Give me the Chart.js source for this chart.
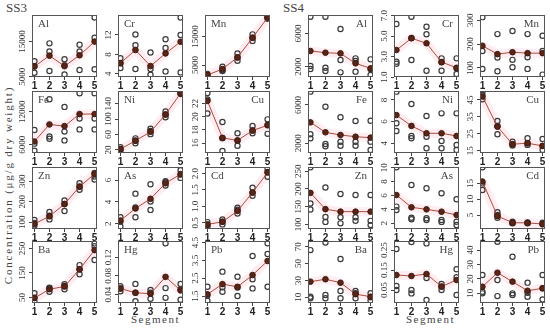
<!DOCTYPE html>
<html>
<head>
<meta charset="utf-8">
<script src="https://cdn.jsdelivr.net/npm/chart.js@4.4.0/dist/chart.umd.min.js"></script>
<style>
  body { margin: 0; background: #fff; width: 550px; height: 328px; position: relative; overflow: hidden; font-family: "Liberation Serif", serif; }
  canvas { position: absolute; }
  .txt { position: absolute; color: #444; white-space: nowrap; }
</style>
</head>
<body>
<div class="txt" style="left:6px;top:0px;font-size:13px">SS3</div>
<div class="txt" style="left:283px;top:0px;font-size:13px">SS4</div>
<div class="txt" style="left:8px;top:185px;font-size:11px;letter-spacing:1.8px;transform:translate(-50%,-50%) rotate(-90deg)">Concentration (μg/g dry weight)</div>
<div class="txt" style="left:131px;top:313px;font-size:11px;letter-spacing:1.5px">Segment</div>
<div class="txt" style="left:406px;top:313px;font-size:11px;letter-spacing:1.5px">Segment</div>

<script>
const segments = [1, 2, 3, 4, 5];

// SS3 replicate values (3 per segment) and segment means
const ss3Al = [[9400, 8000, 6100], [14500, 12200, 6600], [10000, 8300, 5600], [14100, 12200, 6900], [21900, 16100, 7100]];
const ss3AlMean = [7900, 11000, 8000, 11100, 15000];
const ss3Cr = [[7.2, 6.2, 5.2], [12.1, 9.9, 5.0], [8.4, 5.0, 3.8], [11.1, 9.3, 4.5], [15.6, 12.0, 4.3]];
const ss3CrMean = [6.2, 8.9, 5.6, 8.2, 10.6];
const ss3Mn = [[1900, 1500, 1100], [4400, 3200, 2900], [9100, 7700, 6500], [15800, 14600, 13500], [21900, 21700, 21300]];
const ss3MnMean = [1500, 3600, 7700, 14600, 21700];
const ss3Fe = [[8700, 6200, 4900], [14300, 7500, 7100], [12900, 8400, 6800], [15400, 10800, 8800], [15400, 10800, 8800]];
const ss3FeMean = [6600, 9700, 9400, 11600, 11600];
const ss3Ni = [[27, 22, 18], [50, 44, 37], [75, 69, 61], [120, 112, 105], [170, 168, 165]];
const ss3NiMean = [22, 44, 67, 112, 167];
const ss3Cu = [[23.6, 22.6, 20.5], [19.2, 16.75, 14.8], [17.5, 16.4, 15.6], [18.6, 17.9, 17.5], [19.6, 18.75, 17.4]];
const ss3CuMean = [22.4, 16.8, 16.4, 17.9, 18.7];
const ss3Zn = [[111, 97, 84], [150, 132, 114], [206, 189, 155], [291, 274, 259], [341, 323, 309]];
const ss3ZnMean = [92, 129, 189, 274, 336];
const ss3As = [[2.6, 2.2, 1.75], [4.76, 3.5, 2.6], [5.62, 4.03, 3.27], [5.9, 5.8, 5.5], [6.9, 6.5, 6.2]];
const ss3AsMean = [2.3, 3.4, 4.29, 5.71, 6.55];
const ss3Cd = [[0.52, 0.43, 0.38], [0.6, 0.53, 0.45], [0.96, 0.9, 0.78], [1.57, 1.42, 1.32], [2.15, 2.05, 1.9]];
const ss3CdMean = [0.45, 0.53, 0.86, 1.42, 2.03];
const ss3Ba = [[68, 50, 34], [90, 88, 74], [104, 97, 84], [182, 165, 145], [270, 259, 203]];
const ss3BaMean = [48, 84, 95, 165, 243];
const ss3Hg = [[0.058, 0.053, 0.047], [0.063, 0.044, 0.026], [0.05, 0.044, 0.031], [0.15, 0.054, 0.033], [0.063, 0.051, 0.029]];
const ss3HgMean = [0.053, 0.044, 0.042, 0.078, 0.049];
const ss3Pb = [[2.02, 1.54, 1.24], [2.87, 1.99, 1.74], [2.58, 1.98, 1.5], [3.75, 2.44, 1.93], [4.46, 3.86, 2.02]];
const ss3PbMean = [1.6, 2.17, 2.02, 2.68, 3.47];

// SS4
const ss4Al = [[8000, 2080, 1720], [8000, 1880, 1480], [6530, 2800, 1320], [3000, 2680, 1400], [2880, 1720, 1000]];
const ss4AlMean = [3890, 3680, 3600, 2400, 1800];
const ss4Cr = [[6.17, 2.49, 2.3], [6.88, 4.8, 2.66], [5.9, 5.17, 1.61], [2.82, 2.43, 1.61], [2.82, 1.85, 1.29]];
const ss4CrMean = [3.63, 4.78, 4.29, 2.46, 1.9];
const ss4Mn = [[313, 171, 96], [242, 144, 86], [255, 134, 103], [242, 145, 96], [235, 171, 72]];
const ss4MnMean = [193, 158, 166, 162, 162];
const ss4Fe = [[7390, 2940, 2520], [5820, 1930, 1700], [4720, 2170, 1750], [4330, 2170, 1750], [4360, 2170, 1300]];
const ss4FeMean = [4190, 3150, 2870, 2690, 2590];
const ss4Ni = [[8.76, 5.84, 5.13], [7.62, 4.67, 4.46], [6.52, 4.6, 3.54], [6.76, 4.21, 3.54], [6.76, 3.84, 3.38]];
const ss4NiMean = [6.6, 5.6, 4.92, 4.92, 4.67];
const ss4Cu = [[49.9, 48, 45.4], [32.6, 29.6, 24.7], [20.3, 18.8, 18], [22.3, 19.4, 18.4], [21.9, 17.8, 15.4]];
const ss4CuMean = [47, 29.2, 18.8, 19.4, 17.8];
const ss4Zn = [[261, 159, 142], [204, 121, 107], [186, 120, 103], [183, 120, 110], [183, 110, 98]];
const ss4ZnMean = [189, 143, 136, 136, 136];
const ss4As = [[10.06, 4.4, 3.9], [7.5, 2.8, 2.58], [7.04, 2.72, 2.47], [6.32, 2.47, 2.2], [5.45, 2.23, 1.76]];
const ss4AsMean = [6.07, 4.3, 4.01, 3.67, 3.2];
const ss4Cd = [[20.1, 15.0, 12.9], [5.85, 5.0, 4.15], [2.88, 2.5, 2.37], [2.68, 2.5, 2.37], [2.56, 2.2, 2.06]];
const ss4CdMean = [15.6, 4.68, 2.56, 2.5, 2.15];
const ss4Ba = [[66, 10.7, 8.8], [75, 12.7, 8.8], [55.4, 17.5, 8.8], [17.5, 14.7, 8.8], [14.7, 10, 6]];
const ss4BaMean = [28.5, 31.4, 27.3, 13.7, 10.7];
const ss4Hg = [[0.255, 0.07, 0.05], [0.29, 0.05, 0.033], [0.283, 0.11, 0.0], [0.08, 0.067, 0.05], [0.154, 0.114, 0.025]];
const ss4HgMean = [0.125, 0.12, 0.13, 0.067, 0.1];
const ss4Pb = [[22.7, 11.1, 10], [45.8, 19.2, 8.1], [35.4, 10, 8.8], [17.4, 10.4, 7.6], [22.7, 13.5, 5.8]];
const ss4PbMean = [14.6, 24.3, 18.1, 11.8, 13.5];

// y tick labels per panel
const ticksAl3 = ['5000', '15000'], ticksCr3 = ['4', '8', '12'], ticksMn3 = ['5000', '15000'];
const ticksFe3 = ['6000', '12000'], ticksNi3 = ['20', '60', '100', '140'], ticksCu3 = ['16', '18', '20', '22'];
const ticksZn3 = ['100', '200', '300'], ticksAs3 = ['2', '4', '6'], ticksCd3 = ['0.5', '1.0', '1.5', '2.0'];
const ticksBa3 = ['50', '150', '250'], ticksHg3 = ['0.04', '0.08', '0.12'], ticksPb3 = ['1.5', '2.5', '3.5', '4.5'];
const ticksAl4 = ['2000', '6000'], ticksCr4 = ['1.0', '3.0', '5.0', '7.0'], ticksMn4 = ['100', '200', '300'];
const ticksFe4 = ['2000', '6000'], ticksNi4 = ['4', '6', '8'], ticksCu4 = ['15', '25', '35', '45'];
const ticksZn4 = ['100', '150', '200', '250'], ticksAs4 = ['2', '4', '6', '8', '10'], ticksCd4 = ['5', '10', '15'];
const ticksBa4 = ['10', '30', '50', '70'], ticksHg4 = ['0.05', '0.15', '0.25'], ticksPb4 = ['10', '20', '30', '40'];

// panel grid (plot-area boxes)
const colLeft = [[32, 118, 205], [308, 394, 480]];
const rowTop = [15, 91, 167, 241];
const BOX_W = 65, BOX_H = 62;
const PADL = 26, PADT = 10, PADR = 8, PADB = 15;

const panels = [
  // group, col, row, label, corner, pts, mean, ticks, ymin, ymax
  [0, 0, 0, 'Al', 'l', ss3Al, ss3AlMean, ticksAl3, 4900, 22600],
  [0, 1, 0, 'Cr', 'l', ss3Cr, ss3CrMean, ticksCr3, 3.35, 16.1],
  [0, 2, 0, 'Mn', 'l', ss3Mn, ss3MnMean, ticksMn3, 800, 22600],
  [0, 0, 1, 'Fe', 'l', ss3Fe, ss3FeMean, ticksFe3, 4500, 15800],
  [0, 1, 1, 'Ni', 'l', ss3Ni, ss3NiMean, ticksNi3, 12, 173],
  [0, 2, 1, 'Cu', 'r', ss3Cu, ss3CuMean, ticksCu3, 14.5, 23.9],
  [0, 0, 2, 'Zn', 'l', ss3Zn, ss3ZnMean, ticksZn3, 67, 370],
  [0, 1, 2, 'As', 'l', ss3As, ss3AsMean, ticksAs3, 1.52, 7.2],
  [0, 2, 2, 'Cd', 'l', ss3Cd, ss3CdMean, ticksCd3, 0.31, 2.2],
  [0, 0, 3, 'Ba', 'l', ss3Ba, ss3BaMean, ticksBa3, 28, 280],
  [0, 1, 3, 'Hg', 'l', ss3Hg, ss3HgMean, ticksHg3, 0.022, 0.155],
  [0, 2, 3, 'Pb', 'l', ss3Pb, ss3PbMean, ticksPb3, 1.11, 4.59],
  [1, 0, 0, 'Al', 'r', ss4Al, ss4AlMean, ticksAl4, 760, 8210],
  [1, 1, 0, 'Cr', 'r', ss4Cr, ss4CrMean, ticksCr4, 1.0, 7.05],
  [1, 2, 0, 'Mn', 'r', ss4Mn, ss4MnMean, ticksMn4, 62, 322],
  [1, 0, 1, 'Fe', 'r', ss4Fe, ss4FeMean, ticksFe4, 990, 7460],
  [1, 1, 1, 'Ni', 'r', ss4Ni, ss4NiMean, ticksNi4, 3.1, 8.82],
  [1, 2, 1, 'Cu', 'r', ss4Cu, ss4CuMean, ticksCu4, 13.6, 50.3],
  [1, 0, 2, 'Zn', 'r', ss4Zn, ss4ZnMean, ticksZn4, 87, 262],
  [1, 1, 2, 'As', 'r', ss4As, ss4AsMean, ticksAs4, 1.18, 10.1],
  [1, 2, 2, 'Cd', 'r', ss4Cd, ss4CdMean, ticksCd4, 0.57, 20.2],
  [1, 0, 3, 'Ba', 'r', ss4Ba, ss4BaMean, ticksBa4, 3.2, 76.8],
  [1, 1, 3, 'Hg', 'r', ss4Hg, ss4HgMean, ticksHg4, -0.015, 0.295],
  [1, 2, 3, 'Pb', 'r', ss4Pb, ss4PbMean, ticksPb4, 3.3, 46.3],
];

// box, rotated y labels and element name
const panelDeco = {
  id: 'panelDeco',
  afterDraw(chart, args, opts) {
    const { ctx, chartArea: a } = chart;
    const y = chart.scales.y;
    ctx.save();
    ctx.strokeStyle = '#555';
    ctx.lineWidth = 1;
    ctx.strokeRect(Math.round(a.left) + 0.5, Math.round(a.top) + 0.5, Math.round(a.width) - 1, Math.round(a.height) - 1);

    ctx.fillStyle = '#333';
    ctx.font = '9px "Liberation Serif"';
    ctx.textAlign = 'center';
    ctx.textBaseline = 'middle';
    opts.labels.forEach(lbl => {
      const py = y.getPixelForValue(parseFloat(lbl));
      ctx.save();
      ctx.translate(a.left - 9, py);
      ctx.rotate(-Math.PI / 2);
      ctx.fillText(lbl, 0, 0);
      ctx.restore();
    });

    ctx.font = '11px "Liberation Serif"';
    ctx.fillStyle = '#444';
    ctx.textBaseline = 'top';
    if (opts.corner === 'l') {
      ctx.textAlign = 'left';
      ctx.fillText(opts.name, a.left + 6, a.top + 4);
    } else {
      ctx.textAlign = 'right';
      ctx.fillText(opts.name, a.right - 6, a.top + 4);
    }
    ctx.restore();
  }
};

panels.forEach(([g, c, r, name, corner, pts, mean, ticks, ymin, ymax]) => {
  const cv = document.createElement('canvas');
  const w = BOX_W + PADL + PADR, h = BOX_H + PADT + PADB;
  cv.width = w; cv.height = h;
  cv.style.left = (colLeft[g][c] - PADL) + 'px';
  cv.style.top = (rowTop[r] - PADT) + 'px';
  document.body.appendChild(cv);

  const reps = [];
  pts.forEach((vals, i) => vals.forEach(v => reps.push({ x: segments[i], y: v })));
  const means = mean.map((v, i) => ({ x: segments[i], y: v }));

  new Chart(cv, {
    type: 'scatter',
    data: {
      datasets: [
        {
          type: 'line', data: means, borderColor: '#b04a3a', borderWidth: 1,
          pointRadius: 2.8, pointBackgroundColor: '#5a2416', pointBorderColor: '#3c1a10', pointBorderWidth: 1
        },
        {
          data: reps, pointRadius: 2.6, pointBorderWidth: 1.2,
          pointBackgroundColor: 'rgba(0,0,0,0)', pointBorderColor: '#3a3a3a'
        },
        {
          type: 'line', data: means, borderColor: 'rgba(255,195,210,0.3)', borderWidth: 9,
          pointRadius: 0
        }
      ]
    },
    options: {
      responsive: false,
      animation: false,
      events: [],
      layout: { padding: { left: 0, top: PADT, right: PADR, bottom: 0 } },
      plugins: {
        legend: { display: false },
        tooltip: { enabled: false },
        panelDeco: { labels: ticks, name: name, corner: corner }
      },
      scales: {
        x: {
          type: 'linear', min: 0.84, max: 5.16,
          afterBuildTicks: s => { s.ticks = segments.map(v => ({ value: v })); },
          afterFit: s => { s.height = PADB; },
          grid: { drawOnChartArea: false, tickLength: 3, color: '#444' },
          border: { display: false },
          ticks: { padding: 0, color: '#222', font: { family: 'Liberation Sans', size: 10, weight: 'bold' } }
        },
        y: {
          type: 'linear', min: ymin, max: ymax,
          afterBuildTicks: s => { s.ticks = ticks.map(t => ({ value: parseFloat(t) })); },
          afterFit: s => { s.width = PADL; },
          grid: { drawOnChartArea: false, tickLength: 3, color: '#444' },
          border: { display: false },
          ticks: { display: false }
        }
      }
    },
    plugins: [panelDeco]
  });
});
</script>
</body>
</html>
